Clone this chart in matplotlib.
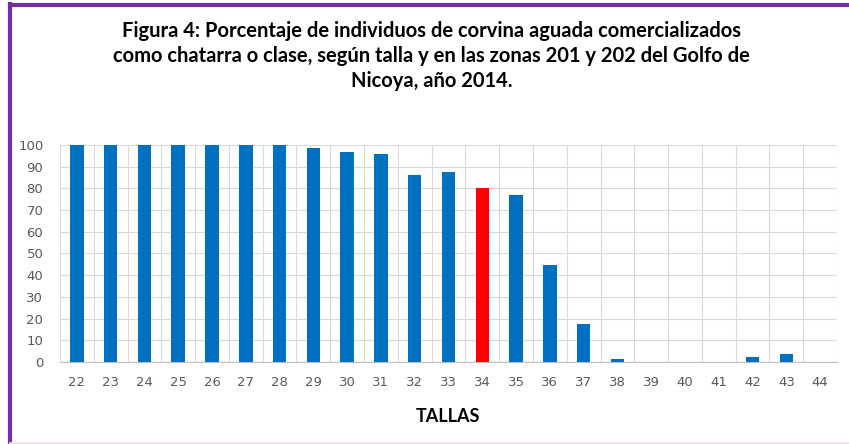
import numpy as np
import matplotlib.pyplot as plt
from matplotlib.lines import Line2D

tallas = [str(t) for t in range(22, 45)]
porcentaje = [100, 100, 100, 100, 100, 100, 100, 98.5, 96.6, 95.7, 86.2, 87.7,
              80, 76.8, 44.6, 17.5, 1.5, 0, 0, 0, 2.4, 3.5, 0]
resaltada = '34'

azul = '#0070c0'
rojo = '#ff0000'
gris = '#595959'

fig = plt.figure(figsize=(8.49, 4.44), dpi=100)
ax = fig.add_axes([60/849, 82/444, 777/849, 217/444])

x = np.arange(len(tallas))
colores = [rojo if t == resaltada else azul for t in tallas]
ax.bar(x, porcentaje, width=0.4, color=colores, zorder=3)

ax.set_xlim(-0.5, len(tallas) - 0.5)
ax.set_ylim(0, 100)
ax.set_yticks(range(0, 101, 10))
ax.set_xticks(x)
ax.set_xticklabels(tallas)
ax.set_xticks(np.arange(-0.5, len(tallas), 1), minor=True)
ax.grid(True, which='major', axis='y', color='#d9d9d9', lw=0.8, zorder=0)
ax.grid(True, which='minor', axis='x', color='#d9d9d9', lw=0.8, zorder=0)
ax.tick_params(which='both', length=0)
ax.tick_params(axis='both', colors=gris, labelsize=9.5, labelcolor=gris)
ax.tick_params(axis='x', pad=10)
ax.tick_params(axis='y', pad=12)
for lado in ['top', 'right', 'left']:
    ax.spines[lado].set_visible(False)
ax.spines['bottom'].set_color('#bfbfbf')
for lbl in ax.get_xticklabels() + ax.get_yticklabels():
    lbl.set_family('DejaVu Sans')

ax.set_xlabel('TALLAS', fontsize=13, fontweight='bold', family='Lato',
              labelpad=14)

titulo = ('Figura 4: Porcentaje de individuos de corvina aguada comercializados\n'
          'como chatarra o clase, según talla y en las zonas 201 y 202 del Golfo de\n'
          'Nicoya, año 2014.')
fig.text(0.508, 1 - 56/444, titulo, ha='center', va='center', fontsize=14.5,
         fontweight='bold', family='Lato', linespacing=1.3)

# marco morado
fig.add_artist(Line2D([10/849, 10/849], [0, 1 - 4/444], color='#7030a0', lw=3,
                      transform=fig.transFigure))
fig.add_artist(Line2D([10/849, 1], [1 - 5/444, 1 - 5/444], color='#7030a0', lw=3,
                      transform=fig.transFigure))
fig.add_artist(Line2D([10/849, 1], [1/444, 1/444], color='#f3dcf0', lw=2,
                      transform=fig.transFigure))

fig.savefig('out.png', dpi=100)
